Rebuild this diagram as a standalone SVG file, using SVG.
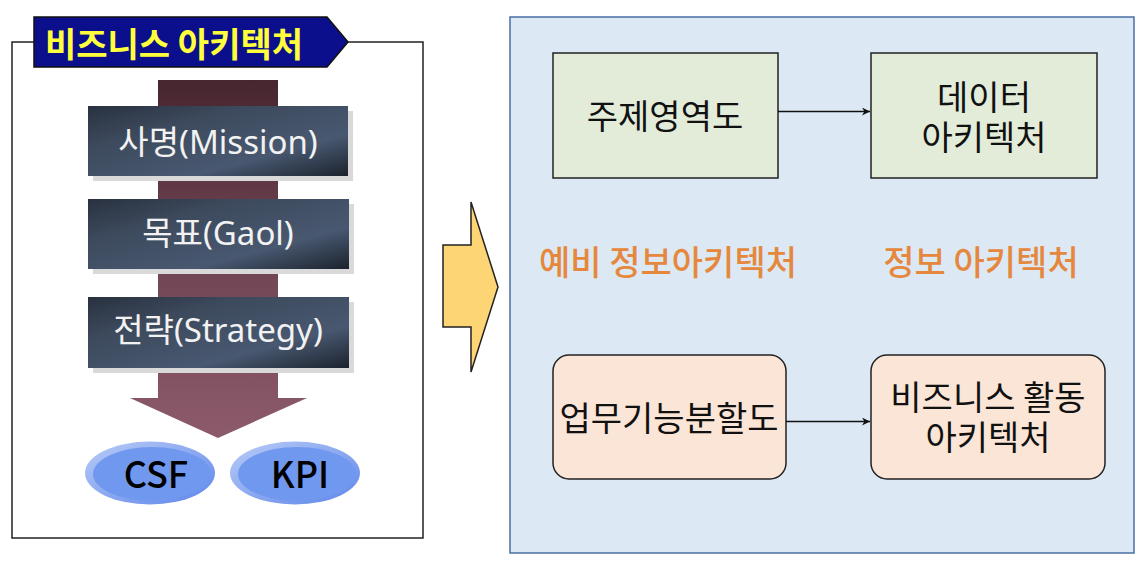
<svg xmlns="http://www.w3.org/2000/svg" width="1147" height="567" viewBox="0 0 1147 567">
  <defs>
    <linearGradient id="bandGrad" x1="0" y1="0" x2="0" y2="1">
      <stop offset="0" stop-color="#47262f"/>
      <stop offset="0.45" stop-color="#6e4252"/>
      <stop offset="1" stop-color="#8c5a6b"/>
    </linearGradient>
    <linearGradient id="slateGrad" x1="0" y1="0" x2="1" y2="1">
      <stop offset="0" stop-color="#28313f"/>
      <stop offset="0.3" stop-color="#3d4a5d"/>
      <stop offset="0.7" stop-color="#485870"/>
      <stop offset="1" stop-color="#1c232e"/>
    </linearGradient>
    <linearGradient id="ovalRim" x1="0" y1="0" x2="1" y2="1">
      <stop offset="0" stop-color="#b9ccf7"/>
      <stop offset="1" stop-color="#5f86ea"/>
    </linearGradient>
    <marker id="arrowHead" viewBox="0 0 10 10" refX="10" refY="5" markerWidth="8" markerHeight="8" markerUnits="userSpaceOnUse" orient="auto">
      <path d="M0,0 L10,5 L0,10 L3,5 Z" fill="#111"/>
    </marker>
    <style>
      .kr { font-family: "Noto Sans CJK KR", "Noto Sans", sans-serif; }
      .mixed { font-family: "Noto Sans", "Noto Sans CJK KR", sans-serif; }
      .frame { fill: #ffffff; stroke: #222; stroke-width: 1.5; }
      .step { fill: url(#slateGrad); }
      .shadow { fill: #d9d9d9; }
      .stepText { fill: #f2f2f2; font-size: 33px; }
      .oval { fill: #7098ef; }
      .ovalText { fill: #000; font-size: 36px; font-weight: 500; }
      .green { fill: #e2ecd9; stroke: #222; stroke-width: 1.5; }
      .peach { fill: #fbe5d6; stroke: #222; stroke-width: 1.5; }
      .boxText { fill: #111; font-size: 34px; }
      .orange { fill: #e5883d; font-size: 34px; font-weight: 500; }
      .link { stroke: #111; stroke-width: 1.3; fill: none; marker-end: url(#arrowHead); }
    </style>
  </defs>

  <rect width="1147" height="567" fill="#ffffff"/>

  <!-- Business architecture frame -->
  <g id="business-frame">
    <rect class="frame" x="12" y="42" width="411" height="496"/>
    <polygon points="34,17 327,17 348,42 327,67 34,67" fill="#0b0f8c" stroke="#111" stroke-width="1.5"/>
    <text class="kr" x="174" y="42" text-anchor="middle" dominant-baseline="central" font-size="34" font-weight="bold" fill="#ffff3c">비즈니스 아키텍처</text>
  </g>

  <!-- downward band with arrow head -->
  <g id="flow-band">
    <polygon points="158,80 278,80 278,398 307,398 218,438 130,398 158,398" fill="url(#bandGrad)"/>
  </g>

  <g id="mission">
    <rect class="shadow" x="93" y="111" width="260" height="70"/>
    <rect class="step" x="88" y="106" width="260" height="70"/>
    <text class="mixed stepText" x="218" y="141" text-anchor="middle" dominant-baseline="central">사명(Mission)</text>
  </g>
  <g id="goal">
    <rect class="shadow" x="93" y="204" width="261" height="70"/>
    <rect class="step" x="88" y="199" width="261" height="70"/>
    <text class="mixed stepText" x="218" y="232" text-anchor="middle" dominant-baseline="central">목표(Gaol)</text>
  </g>
  <g id="strategy">
    <rect class="shadow" x="93" y="302" width="261" height="71"/>
    <rect class="step" x="88" y="297" width="261" height="71"/>
    <text class="mixed stepText" x="218" y="329" text-anchor="middle" dominant-baseline="central">전략(Strategy)</text>
  </g>

  <g id="csf">
    <ellipse cx="150" cy="473" rx="65" ry="31.5" fill="url(#ovalRim)"/>
    <ellipse class="oval" cx="152" cy="474" rx="59" ry="27"/>
    <text class="kr ovalText" x="156" y="472" text-anchor="middle" dominant-baseline="central">CSF</text>
  </g>
  <g id="kpi">
    <ellipse cx="295" cy="473" rx="65" ry="31.5" fill="url(#ovalRim)"/>
    <ellipse class="oval" cx="297" cy="474" rx="59" ry="27"/>
    <text class="kr ovalText" x="300" y="472" text-anchor="middle" dominant-baseline="central">KPI</text>
  </g>

  <!-- transition arrow -->
  <g id="transition-arrow">
    <polygon points="443,245 471,245 471,202 498,287 471,372 471,327 443,327" fill="#fdd575" stroke="#222" stroke-width="1.5"/>
  </g>

  <!-- Information architecture panel -->
  <g id="info-panel">
    <rect x="510" y="17" width="624" height="536" fill="#dce9f5" stroke="#4a6fa5" stroke-width="1.5"/>
    <text class="kr orange" x="668" y="260" text-anchor="middle" dominant-baseline="central">예비 정보아키텍처</text>
    <text class="kr orange" x="981" y="260" text-anchor="middle" dominant-baseline="central">정보 아키텍처</text>
  </g>

  <g id="subject-area">
    <rect class="green" x="553" y="53" width="225" height="125"/>
    <text class="kr boxText" x="665" y="114" text-anchor="middle" dominant-baseline="central">주제영역도</text>
  </g>
  <g id="data-arch">
    <rect class="green" x="871" y="53" width="226" height="125"/>
    <text class="kr boxText" text-anchor="middle" dominant-baseline="central"><tspan x="984" y="95">데이터</tspan><tspan x="984" y="135">아키텍처</tspan></text>
  </g>
  <g id="function-decomp">
    <rect class="peach" x="553" y="355" width="233" height="124" rx="16"/>
    <text class="kr boxText" x="669" y="416" text-anchor="middle" dominant-baseline="central">업무기능분할도</text>
  </g>
  <g id="activity-arch">
    <rect class="peach" x="871" y="355" width="234" height="124" rx="16"/>
    <text class="kr boxText" text-anchor="middle" dominant-baseline="central"><tspan x="988" y="395">비즈니스 활동</tspan><tspan x="988" y="435">아키텍처</tspan></text>
  </g>

  <g id="connectors">
    <line class="link" x1="778" y1="111.5" x2="870" y2="111.5"/>
    <line class="link" x1="786" y1="421.5" x2="870" y2="421.5"/>
  </g>
</svg>
